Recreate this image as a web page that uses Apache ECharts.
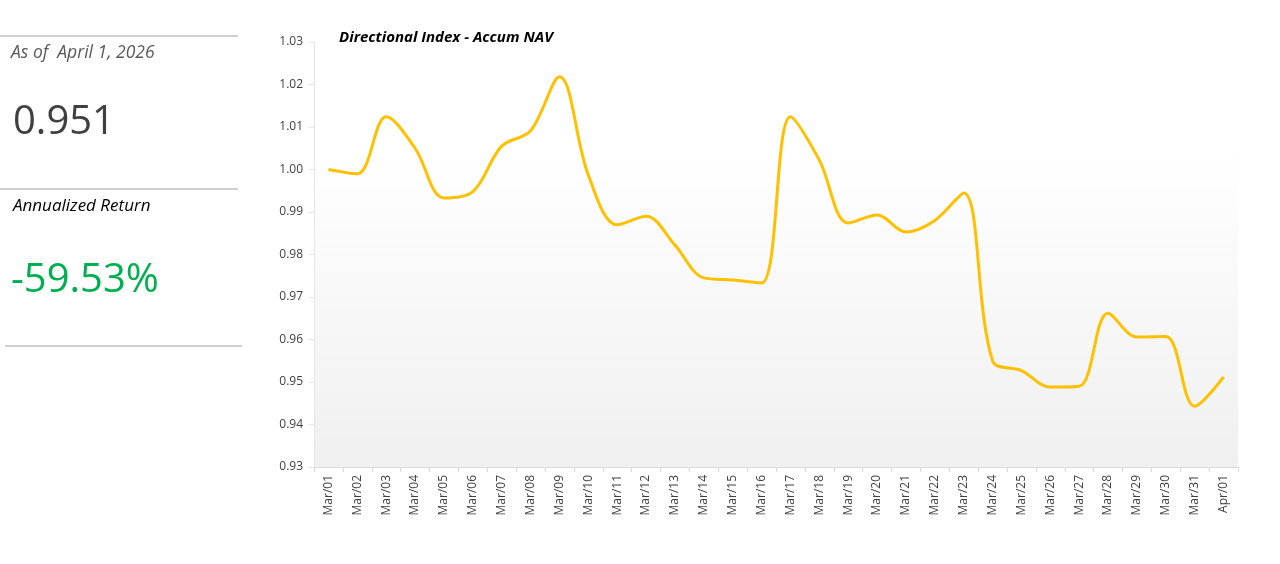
<!DOCTYPE html>
<html>
<head>
<meta charset="utf-8">
<script src="https://cdn.jsdelivr.net/npm/echarts@6/dist/echarts.min.js"></script>
<style>
  html, body { margin: 0; padding: 0; background: #fff; }
  #chart { width: 1280px; height: 564px; }
</style>
</head>
<body>
<div id="chart"></div>
<script>
// data
const dates = ['Mar/01','Mar/02','Mar/03','Mar/04','Mar/05','Mar/06','Mar/07','Mar/08','Mar/09','Mar/10',
  'Mar/11','Mar/12','Mar/13','Mar/14','Mar/15','Mar/16','Mar/17','Mar/18','Mar/19','Mar/20',
  'Mar/21','Mar/22','Mar/23','Mar/24','Mar/25','Mar/26','Mar/27','Mar/28','Mar/29','Mar/30',
  'Mar/31','Apr/01'];
const nav = [1.000, 0.999, 1.0124, 1.005, 0.9933, 0.9948, 1.0055, 1.0091, 1.0218, 0.9987,
  0.987, 0.989, 0.9822, 0.9745, 0.974, 0.9733, 1.0124, 1.0022, 0.9874, 0.9893,
  0.9853, 0.988, 0.9945, 0.955, 0.9527, 0.9488, 0.9490, 0.9662, 0.9606, 0.9607,
  0.9443, 0.9512];
const asOfText = 'As of  April 1, 2026';
const latestNav = '0.951';
const annualizedReturn = '-59.53%';

const chart = echarts.init(document.getElementById('chart'));

const option = {
  animation: false,
  textStyle: { fontFamily: 'Open Sans' },
  title: {
    text: 'Directional Index - Accum NAV',
    left: 441,
    textAlign: 'center',
    top: 25,
    textStyle: { fontSize: 15, fontWeight: 'bold', fontStyle: 'italic', color: '#000', fontFamily: 'Open Sans' }
  },
  grid: {
    left: 314, right: 42, top: 42, bottom: 97,
    show: true,
    borderWidth: 0,
    backgroundColor: new echarts.graphic.LinearGradient(0, 0, 0, 1, [
      { offset: 0, color: '#ffffff' },
      { offset: 0.25, color: '#ffffff' },
      { offset: 1, color: '#f0f0f0' }
    ])
  },
  xAxis: {
    type: 'category',
    data: dates,
    boundaryGap: true,
    axisLine: { lineStyle: { color: '#d9d9d9', width: 1 } },
    axisTick: { show: true, length: 5, lineStyle: { color: '#d9d9d9' } },
    axisLabel: { rotate: 90, interval: 0, fontSize: 12, color: '#404040', margin: 8 }
  },
  yAxis: {
    type: 'value',
    min: 0.93, max: 1.03, interval: 0.01,
    splitLine: { show: false },
    axisLine: { show: true, lineStyle: { color: '#e6e6e6', width: 1 } },
    axisTick: { show: true, length: 5, lineStyle: { color: '#e6e6e6' } },
    axisLabel: { fontSize: 12, color: '#404040', margin: 11, formatter: v => v.toFixed(2) }
  },
  series: [{
    type: 'line',
    data: nav,
    smooth: 0.35,
    symbol: 'none',
    lineStyle: { color: '#FFC000', width: 3 }
  }],
  graphic: [
    { type: 'line', shape: { x1: 0, y1: 36, x2: 238, y2: 36 }, style: { stroke: '#d0d0d0', lineWidth: 2 } },
    { type: 'line', shape: { x1: 0, y1: 189, x2: 238, y2: 189 }, style: { stroke: '#d0d0d0', lineWidth: 2 } },
    { type: 'line', shape: { x1: 5, y1: 346, x2: 242, y2: 346 }, style: { stroke: '#d0d0d0', lineWidth: 2 } },
    { type: 'text', left: 11, top: 44, style: { text: asOfText, fontSize: 17.5, fontStyle: 'italic', fill: '#595959', fontFamily: 'Open Sans' } },
    { type: 'text', left: 13, top: 103, style: { text: latestNav, fontSize: 40, fill: '#404040', fontFamily: 'Open Sans' } },
    { type: 'text', left: 13, top: 198, style: { text: 'Annualized Return', fontSize: 17, fontStyle: 'italic', fill: '#000', fontFamily: 'Open Sans' } },
    { type: 'text', left: 11, top: 261, style: { text: annualizedReturn, fontSize: 40, fill: '#00B050', fontFamily: 'Open Sans' } }
  ]
};

chart.setOption(option);
</script>
</body>
</html>
